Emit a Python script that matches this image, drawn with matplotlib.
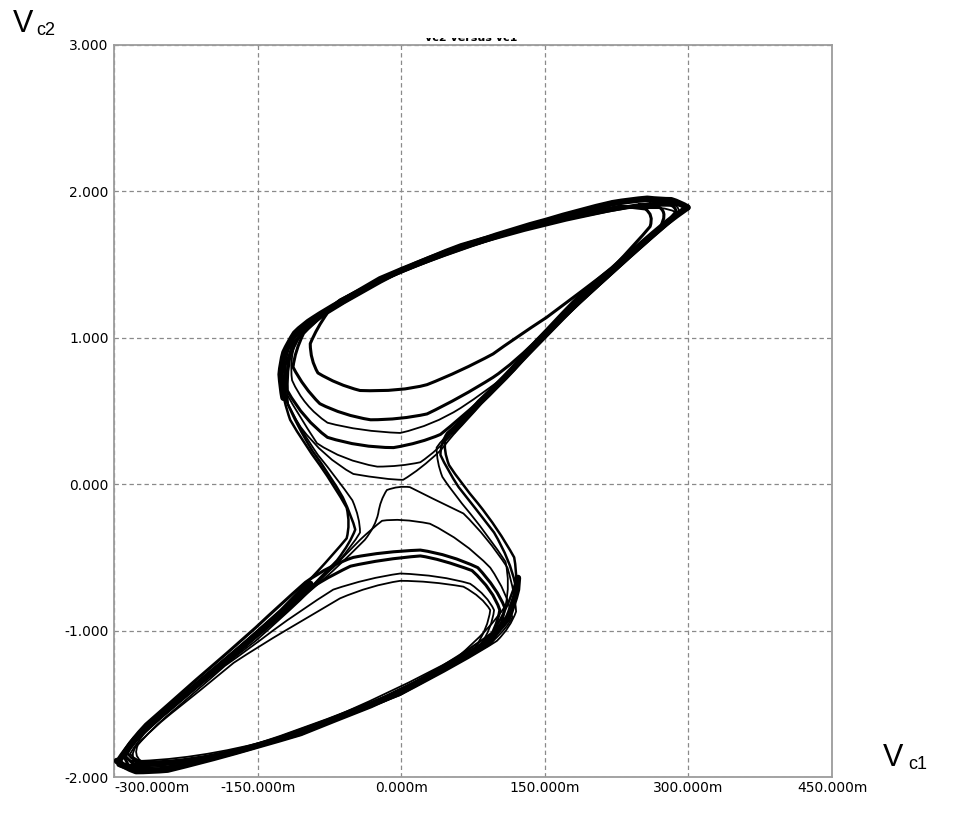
import numpy as np
import matplotlib.pyplot as plt
from matplotlib.path import Path
from matplotlib.patches import PathPatch
from matplotlib.transforms import Bbox, TransformedBbox

# axis ticks (x in mV, y in V)
x_ticks = [-300, -150, 0, 150, 300, 450]
y_ticks = [-2, -1, 0, 1, 2, 3]

# ---------------- upper scroll ----------------
# outer rim: tip -> top edge -> left bulge
up_rim_x = [299, 292, 282, 271, 257, 239, 221, 187, 152, 117, 82, 62, 30, -1, -22, -43, -64, -78,
            -92, -102, -111, -117, -122, -125, -126, -125, -123]
up_rim_y = [1.89, 1.92, 1.94, 1.94, 1.95, 1.94, 1.92, 1.87, 1.80, 1.74, 1.66, 1.62, 1.54, 1.46, 1.40,
            1.32, 1.24, 1.19, 1.13, 1.09, 1.03, 0.97, 0.90, 0.83, 0.75, 0.66, 0.59]
# return band along the diagonal up to the tip
up_diag_x = [54, 69, 82, 100, 117, 134, 152, 169, 187, 204, 221, 236, 249, 263, 276, 288, 299]
up_diag_y = [0.36, 0.46, 0.56, 0.67, 0.79, 0.92, 1.04, 1.16, 1.28, 1.38, 1.47, 1.56, 1.63, 1.71,
             1.78, 1.84, 1.89]

# loops that stay in the upper scroll
u1_x = [229, 187, 117, 62, -1, -43, -77, -88, -95, -95, -87, -67, -43, -1, 27, 62, 96, 117, 152,
        187, 221, 246, 260, 264, 255, 229]
u1_y = [1.90, 1.85, 1.72, 1.61, 1.45, 1.31, 1.17, 1.07, 0.96, 0.85, 0.76, 0.68, 0.64, 0.63, 0.68,
        0.77, 0.89, 0.99, 1.14, 1.31, 1.48, 1.65, 1.76, 1.84, 1.88, 1.90]
u2_x = [236, 152, 62, -1, -53, -85, -102, -111, -113, -102, -85, -61, -32, -1, 27, 62, 96, 117,
        152, 187, 221, 249, 270, 279, 270, 236]
u2_y = [1.89, 1.79, 1.61, 1.46, 1.29, 1.15, 1.03, 0.91, 0.80, 0.66, 0.55, 0.47, 0.44, 0.44, 0.48,
        0.59, 0.73, 0.82, 1.05, 1.26, 1.46, 1.62, 1.75, 1.85, 1.89, 1.89]
u3_x = [242, 152, 62, -1, -58, -92, -110, -117, -114, -102, -77, -43, -1, 33, 62, 90, 117, 152,
        187, 221, 255, 276, 286, 276, 242]
u3_y = [1.89, 1.80, 1.62, 1.47, 1.26, 1.11, 0.98, 0.85, 0.71, 0.53, 0.42, 0.36, 0.35, 0.40, 0.52,
        0.64, 0.78, 1.02, 1.24, 1.44, 1.65, 1.78, 1.86, 1.90, 1.89]
u4_x = [249, 152, 62, -1, -61, -94, -112, -120, -119, -102, -77, -43, -8, 20, 41, 62, 82, 117,
        152, 187, 221, 255, 281, 293, 281, 249]
u4_y = [1.91, 1.81, 1.63, 1.47, 1.26, 1.11, 0.97, 0.82, 0.64, 0.44, 0.32, 0.25, 0.25, 0.28, 0.34,
        0.45, 0.57, 0.79, 1.03, 1.26, 1.46, 1.66, 1.80, 1.87, 1.91, 1.91]
u5_x = [255, 152, 62, -1, -64, -97, -115, -122, -119, -109, -88, -61, -25, -1, 20, 38, 54, 72, 93,
        117, 152, 187, 221, 255, 283, 297, 283, 255]
u5_y = [1.91, 1.81, 1.63, 1.48, 1.26, 1.09, 0.94, 0.77, 0.61, 0.49, 0.28, 0.16, 0.12, 0.12, 0.15,
        0.23, 0.35, 0.47, 0.61, 0.78, 1.02, 1.26, 1.46, 1.66, 1.81, 1.87, 1.92, 1.91]
u6_x = [260, 152, 62, -1, -66, -99, -117, -125, -122, -115, -105, -81, -50, -15, 2, 20, 41, 58, 77,
        100, 117, 152, 187, 221, 257, 286, 300, 286, 260]
u6_y = [1.92, 1.82, 1.64, 1.49, 1.25, 1.08, 0.93, 0.77, 0.61, 0.49, 0.39, 0.18, 0.07, 0.03, 0.03,
        0.10, 0.23, 0.37, 0.51, 0.67, 0.79, 1.04, 1.26, 1.47, 1.67, 1.83, 1.89, 1.93, 1.92]

# crossings from the upper scroll down to the lower tip
t1a_x = [299, 271, 221, 152, 62, -1, -64, -102, -118, -125, -126, -123, -116, -102, -85, -69, -57,
         -53, -57, -71, -88, -105, -126, -150, -175, -210, -244, -269, -286, -295, -296, -288, -267]
t1a_y = [1.89, 1.95, 1.93, 1.81, 1.63, 1.48, 1.26, 1.07, 0.96, 0.83, 0.71, 0.57, 0.44, 0.28, 0.13,
         -0.02, -0.16, -0.27, -0.37, -0.48, -0.60, -0.72, -0.86, -1.00, -1.15, -1.34, -1.53, -1.68,
         -1.79, -1.87, -1.92, -1.95, -1.96]
t1b_x = [292, 221, 152, 62, -1, -64, -100, -115, -121, -122, -120, -109, -93, -74, -61, -51, -48,
         -53, -67, -85, -102, -123, -147, -173, -210, -241, -262, -278, -286, -285, -276, -252]
t1b_y = [1.91, 1.92, 1.80, 1.62, 1.47, 1.25, 1.07, 0.95, 0.81, 0.67, 0.57, 0.40, 0.23, 0.06, -0.09,
         -0.23, -0.31, -0.40, -0.52, -0.64, -0.76, -0.88, -1.02, -1.15, -1.35, -1.51, -1.63, -1.73,
         -1.82, -1.87, -1.89, -1.90]
t1c_x = [286, 221, 152, 62, -1, -64, -98, -113, -119, -120, -118, -105, -87, -67, -51, -43, -43,
         -51, -66, -85, -105, -126, -152, -178, -210, -241, -262, -276, -283, -280, -267]
t1c_y = [1.90, 1.92, 1.79, 1.62, 1.46, 1.24, 1.08, 0.95, 0.81, 0.67, 0.54, 0.37, 0.20, 0.04, -0.11,
         -0.23, -0.33, -0.42, -0.53, -0.66, -0.79, -0.92, -1.07, -1.20, -1.37, -1.53, -1.65, -1.76,
         -1.84, -1.88, -1.90]

# ---------------- lower scroll ----------------
lo_rim_x = [-297, -290, -277, -262, -244, -231, -196, -151, -105, -71, -32, -1, 30, 65, 88, 100,
            111, 117, 121, 122]
lo_rim_y = [-1.89, -1.93, -1.96, -1.96, -1.95, -1.93, -1.87, -1.79, -1.70, -1.61, -1.51, -1.42,
            -1.31, -1.18, -1.09, -1.01, -0.92, -0.83, -0.72, -0.64]
lo_diag_x = [-95, -105, -123, -150, -175, -210, -244, -262, -278, -288, -295]
lo_diag_y = [-0.68, -0.74, -0.87, -1.02, -1.16, -1.35, -1.54, -1.63, -1.74, -1.82, -1.89]

c1_x = [-272, -231, -151, -71, -1, 51, 77, 91, 93, 85, 65, 30, -1, -32, -64, -95, -121, -147, -175,
        -210, -241, -262, -275, -280, -272]
c1_y = [-1.89, -1.91, -1.78, -1.60, -1.41, -1.23, -1.12, -0.98, -0.86, -0.77, -0.70, -0.66, -0.66,
        -0.69, -0.78, -0.90, -1.00, -1.10, -1.22, -1.41, -1.57, -1.68, -1.78, -1.85, -1.89]
c2_x = [-277, -231, -151, -71, -1, 56, 82, 95, 97, 90, 72, 41, -1, -35, -71, -105, -134, -158, -184,
        -215, -246, -265, -277, -284, -277]
c2_y = [-1.90, -1.92, -1.78, -1.61, -1.42, -1.22, -1.11, -0.98, -0.86, -0.76, -0.68, -0.62, -0.61,
        -0.64, -0.72, -0.86, -1.00, -1.12, -1.24, -1.42, -1.59, -1.70, -1.79, -1.86, -1.90]
c3_x = [-280, -231, -151, -71, -1, 59, 88, 100, 103, 96, 74, 41, 20, -19, -53, -85, -111, -137, -163,
        -194, -225, -252, -269, -283, -288, -280]
c3_y = [-1.91, -1.93, -1.79, -1.61, -1.42, -1.22, -1.10, -0.98, -0.86, -0.72, -0.59, -0.51, -0.49,
        -0.51, -0.56, -0.66, -0.78, -0.93, -1.08, -1.25, -1.43, -1.58, -1.69, -1.79, -1.86, -1.91]
c4_x = [-285, -231, -151, -71, -1, 62, 93, 106, 108, 100, 80, 51, 20, -19, -50, -74, -100, -126, -152,
        -181, -215, -246, -267, -283, -291, -285]
c4_y = [-1.92, -1.94, -1.79, -1.62, -1.43, -1.21, -1.09, -0.98, -0.84, -0.71, -0.57, -0.48, -0.45,
        -0.46, -0.50, -0.55, -0.67, -0.82, -0.98, -1.15, -1.34, -1.52, -1.64, -1.75, -1.84, -1.92]
c5_x = [-288, -231, -151, -71, -1, 65, 96, 111, 116, 111, 93, 65, 30, -1, -20, -30, -43, -58, -71,
        -90, -105, -140, -168, -200, -231, -257, -276, -289, -293, -288]
c5_y = [-1.92, -1.94, -1.79, -1.62, -1.44, -1.20, -1.07, -0.98, -0.91, -0.74, -0.57, -0.38, -0.27,
        -0.23, -0.25, -0.30, -0.38, -0.48, -0.57, -0.67, -0.77, -0.98, -1.13, -1.31, -1.48, -1.63,
        -1.75, -1.83, -1.89, -1.92]
c6_x = [-291, -231, -151, -71, -1, 67, 100, 114, 120, 119, 111, 90, 65, 30, 9, -3, -15, -22, -24,
        -27, -38, -53, -71, -105, -137, -168, -205, -236, -262, -280, -291, -295, -291]
c6_y = [-1.93, -1.96, -1.80, -1.63, -1.44, -1.21, -1.07, -0.98, -0.87, -0.75, -0.57, -0.36, -0.20,
        -0.09, -0.02, -0.01, -0.04, -0.11, -0.20, -0.29, -0.38, -0.48, -0.59, -0.79, -0.96, -1.13,
        -1.34, -1.51, -1.66, -1.76, -1.85, -1.90, -1.93]

# crossings from the lower scroll up to the upper tip
t2a_x = [-296, -288, -262, -196, -105, -1, 65, 100, 117, 123, 118, 101, 80, 62, 50, 44, 46, 54, 72,
         100, 135, 169, 205, 239, 265, 284, 296]
t2a_y = [-1.89, -1.95, -1.96, -1.88, -1.71, -1.42, -1.19, -1.02, -0.84, -0.68, -0.50, -0.30, -0.13,
         0.01, 0.13, 0.23, 0.31, 0.37, 0.48, 0.68, 0.92, 1.15, 1.37, 1.56, 1.72, 1.83, 1.89]
t2b_x = [-283, -252, -196, -105, -1, 62, 96, 112, 119, 114, 97, 77, 60, 48, 41, 41, 48, 67, 96, 135,
         169, 205, 239, 265, 283, 294]
t2b_y = [-1.89, -1.92, -1.87, -1.69, -1.41, -1.18, -1.01, -0.84, -0.68, -0.52, -0.33, -0.16, -0.02,
         0.10, 0.20, 0.28, 0.35, 0.46, 0.66, 0.90, 1.13, 1.35, 1.55, 1.70, 1.80, 1.87]
t2c_x = [-272, -196, -105, -1, 59, 93, 109, 114, 109, 93, 72, 54, 43, 37, 37, 43, 58, 82, 117, 152,
         187, 221, 255, 279, 292]
t2c_y = [-1.89, -1.87, -1.69, -1.40, -1.18, -0.99, -0.83, -0.68, -0.53, -0.37, -0.20, -0.06, 0.05,
         0.15, 0.25, 0.31, 0.40, 0.56, 0.77, 1.01, 1.24, 1.44, 1.64, 1.78, 1.86]


def trace(ax, xs, ys, lw):
    # quadratic bezier through the sampled points so the loops stay round
    verts = list(zip(xs, ys))
    n = len(verts) - 1
    codes = [Path.MOVETO] + [Path.CURVE3] * (n - n % 2)
    if n % 2:
        codes.append(Path.LINETO)
    ax.add_patch(PathPatch(Path(verts, codes), fill=False, edgecolor='black', lw=lw,
                           joinstyle='round', capstyle='round', zorder=3))


plt.rcParams['font.family'] = ['DejaVu Sans']

fig = plt.figure(figsize=(9.56, 8.13), dpi=100)
ax = fig.add_axes([114 / 956, 1 - 777 / 813, 718 / 956, 732 / 813])

for x, y in [(up_rim_x, up_rim_y), (up_diag_x, up_diag_y), (lo_rim_x, lo_rim_y), (lo_diag_x, lo_diag_y)]:
    trace(ax, x, y, 4.6)
for x, y in [(u1_x, u1_y), (u2_x, u2_y), (u4_x, u4_y), (c3_x, c3_y), (c4_x, c4_y)]:
    trace(ax, x, y, 2.2)
for x, y in [(t1a_x, t1a_y), (t1b_x, t1b_y), (t2a_x, t2a_y), (t2b_x, t2b_y)]:
    trace(ax, x, y, 1.8)
for x, y in [(u3_x, u3_y), (u5_x, u5_y), (u6_x, u6_y), (t1c_x, t1c_y), (t2c_x, t2c_y),
             (c1_x, c1_y), (c2_x, c2_y), (c5_x, c5_y), (c6_x, c6_y)]:
    trace(ax, x, y, 1.3)

ax.set_xlim(-300, 450)
ax.set_ylim(-2, 3)
ax.set_xticks(x_ticks)
ax.set_xticklabels([f"{v:.3f}m" for v in x_ticks])
ax.set_yticks(y_ticks)
ax.set_yticklabels([f"{v:.3f}" for v in y_ticks])
ax.get_xticklabels()[0].set_horizontalalignment('left')
ax.tick_params(length=0, labelsize=10, colors='black')
ax.tick_params(axis='x', pad=3)
ax.tick_params(axis='y', pad=4)

ax.grid(True, color='#8a8a8a', linestyle=(0, (3.5, 2.5)), linewidth=0.9)
ax.set_axisbelow(True)
for sp in ax.spines.values():
    sp.set_color('#9c9c9c')
    sp.set_linewidth(1.3)

# axis names
fig.text(13 / 956, 1 - 32 / 813, 'V', fontsize=22, family='Liberation Sans', va='baseline')
fig.text(36 / 956, 1 - 35 / 813, 'c2', fontsize=13, family='Liberation Sans', va='baseline')
fig.text(883 / 956, 1 - 766 / 813, 'V', fontsize=22, family='Liberation Sans', va='baseline')
fig.text(908 / 956, 1 - 769 / 813, 'c1', fontsize=13, family='Liberation Sans', va='baseline')

# plot title, only its lowest row shows above the frame
title = fig.text(471 / 956, 1 - 41 / 813, 'vc2 versus vc1', fontsize=8, weight='bold',
                 ha='center', va='baseline')
title.set_clip_box(TransformedBbox(Bbox.from_extents(0.4, 1 - 41 / 813, 0.6, 1 - 38 / 813),
                                   fig.transFigure))
title.set_clip_on(True)

fig.savefig('out.png', dpi=100)
